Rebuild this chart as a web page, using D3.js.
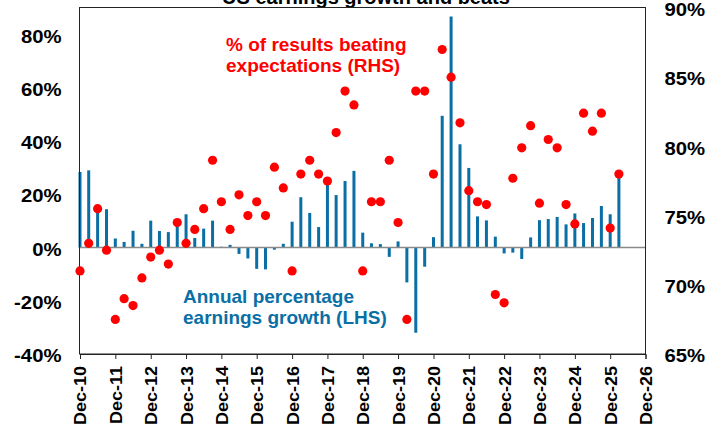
<!DOCTYPE html>
<html><head><meta charset="utf-8">
<script src="https://cdn.jsdelivr.net/npm/d3@7"></script>
<style>
html,body{margin:0;padding:0;background:#fff;}
svg{display:block;font-family:"Liberation Sans",Arial,sans-serif;}
</style></head>
<body><svg id="c" width="721" height="427"></svg>
<script>
const quarters = ["Dec-10","Mar-11","Jun-11","Sep-11","Dec-11","Mar-12","Jun-12","Sep-12","Dec-12","Mar-13","Jun-13","Sep-13",
"Dec-13","Mar-14","Jun-14","Sep-14","Dec-14","Mar-15","Jun-15","Sep-15","Dec-15","Mar-16","Jun-16","Sep-16",
"Dec-16","Mar-17","Jun-17","Sep-17","Dec-17","Mar-18","Jun-18","Sep-18","Dec-18","Mar-19","Jun-19","Sep-19",
"Dec-19","Mar-20","Jun-20","Sep-20","Dec-20","Mar-21","Jun-21","Sep-21","Dec-21","Mar-22","Jun-22","Sep-22",
"Dec-22","Mar-23","Jun-23","Sep-23","Dec-23","Mar-24","Jun-24","Sep-24","Dec-24","Mar-25","Jun-25","Sep-25",
"Dec-25","Mar-26"];
const growth = [28.4,29.0,16,14.4,3.4,2.1,6.3,1.4,10.1,6.2,5.8,10,
12.5,3.6,7.1,10.1,0.3,1.0,-2.4,-4.1,-8.0,-8.2,-0.8,1.4,
9.7,18.9,13.0,7.7,24.4,19.7,25.0,28.8,5.6,1.6,1.3,-3.5,
2.3,-13.1,-32.0,-7.2,3.9,49.5,86.8,38.8,29.9,11.7,10.2,4.1,
-2.2,-1.9,-4.3,3.8,10.3,10.7,11.5,8.7,12.8,9.2,11.1,15.6,
12.5,26.6];
const beats = [71.0,73.0,75.5,72.5,67.5,69.0,68.5,70.5,72.0,72.5,71.5,74.5,
73.0,74.0,75.5,79.0,76.0,74.0,76.5,75.0,76.0,75.0,78.5,77.0,
71.0,78.0,79.0,78.0,77.5,81.0,84.0,83.0,71.0,76.0,76.0,79.0,
74.5,67.5,84.0,84.0,78.0,87.0,85.0,81.7,76.8,76.0,75.8,69.3,
68.7,77.7,79.9,81.5,75.9,80.5,79.9,75.8,74.4,82.4,81.1,82.4,
74.1,78.0];
const xTickLabels = ["Dec-10","Dec-11","Dec-12","Dec-13","Dec-14","Dec-15","Dec-16","Dec-17","Dec-18",
"Dec-19","Dec-20","Dec-21","Dec-22","Dec-23","Dec-24","Dec-25","Dec-26"];
const leftTicks = [-40,-20,0,20,40,60,80];
const rightTicks = [65,70,75,80,85,90];
const title = "US earnings growth and beats";

const parse = d3.timeParse("%b-%y");
const L = 79.5, R = 645.5, T = 7.5, B = 354;
const BLUE = "#0A6FA5", RED = "#FF0000";
const FONT = "Liberation Sans, Arial, sans-serif";
const svg = d3.select("#c");

const x = d3.scaleTime().domain([parse("Dec-10"), parse("Dec-26")]).range([80, 645.5]);
const yL = d3.scaleLinear().domain([-40, 90]).range([B, 8]);
const yR = d3.scaleLinear().domain([65, 90]).range([B, 8]);

function stretch(sel, f) {
  sel.each(function () {
    const w = this.getComputedTextLength();
    d3.select(this).attr("textLength", w * f).attr("lengthAdjust", "spacingAndGlyphs");
  });
}

// title (partially cut off at top)
svg.append("text").attr("x", 366).attr("y", 4).attr("text-anchor", "middle")
  .attr("font-size", 20).attr("font-weight", "bold").attr("fill", "#000").text(title);

// bars
const data = quarters.map((q, i) => ({d: parse(q), g: growth[i], b: beats[i]}));
svg.append("g").selectAll("rect").data(data).enter().append("rect")
  .attr("x", d => x(d.d) - 1.5).attr("width", 3)
  .attr("y", d => Math.min(yL(d.g), yL(0)))
  .attr("height", d => Math.abs(yL(d.g) - yL(0)))
  .attr("fill", BLUE);

// zero line
svg.append("line").attr("x1", L).attr("x2", R).attr("y1", yL(0)).attr("y2", yL(0))
  .attr("stroke", "#8a8a8a").attr("stroke-width", 1.5);

// frame
svg.append("rect").attr("x", L).attr("y", T).attr("width", R - L).attr("height", B - T)
  .attr("fill", "none").attr("stroke", "#222").attr("stroke-width", 1);

// x axis
const xAxis = d3.axisBottom(x).tickValues(xTickLabels.map(parse)).tickSize(5).tickFormat(d3.timeFormat("%b-%y"));
const gx = svg.append("g").attr("transform", `translate(0,${B})`).call(xAxis);
gx.select(".domain").attr("stroke", "#222");
gx.selectAll(".tick line").attr("stroke", "#222");
gx.selectAll("text").attr("transform", "rotate(-90)").attr("text-anchor", "end")
  .attr("x", -12).attr("y", 0).attr("dy", "0.35em")
  .attr("font-size", 17).attr("font-weight", "bold").attr("fill", "#000")
  .attr("font-family", FONT);
stretch(gx.selectAll("text"), 1.06);

// left axis
const gl = svg.append("g").attr("transform", `translate(${L},2)`)
  .call(d3.axisLeft(yL).tickValues(leftTicks).tickSize(0).tickPadding(18).tickFormat(d => d + "%"));
gl.select(".domain").remove();
gl.selectAll("text").attr("font-size", 17.5).attr("font-weight", "bold").attr("fill", "#000")
  .attr("font-family", FONT);
stretch(gl.selectAll("text"), 1.16);

// right axis
const gr = svg.append("g").attr("transform", `translate(${R},2)`)
  .call(d3.axisRight(yR).tickValues(rightTicks).tickSize(0).tickPadding(19).tickFormat(d => d + "%"));
gr.select(".domain").remove();
gr.selectAll("text").attr("font-size", 17.5).attr("font-weight", "bold").attr("fill", "#000")
  .attr("font-family", FONT);
stretch(gr.selectAll("text"), 1.16);

// dots
svg.append("g").selectAll("circle").data(data).enter().append("circle")
  .attr("cx", d => x(d.d)).attr("cy", d => yR(d.b)).attr("r", 4.6).attr("fill", RED);

// annotations
const red = svg.append("text").attr("font-size", 19).attr("font-weight", "bold").attr("fill", RED);
red.append("tspan").attr("x", 226).attr("y", 51).text("% of results beating");
red.append("tspan").attr("x", 226).attr("y", 72).text("expectations (RHS)");
const blue = svg.append("text").attr("font-size", 19).attr("font-weight", "bold").attr("fill", BLUE);
blue.append("tspan").attr("x", 183).attr("y", 303).text("Annual percentage");
blue.append("tspan").attr("x", 183).attr("y", 324).text("earnings growth (LHS)");
</script></body></html>
